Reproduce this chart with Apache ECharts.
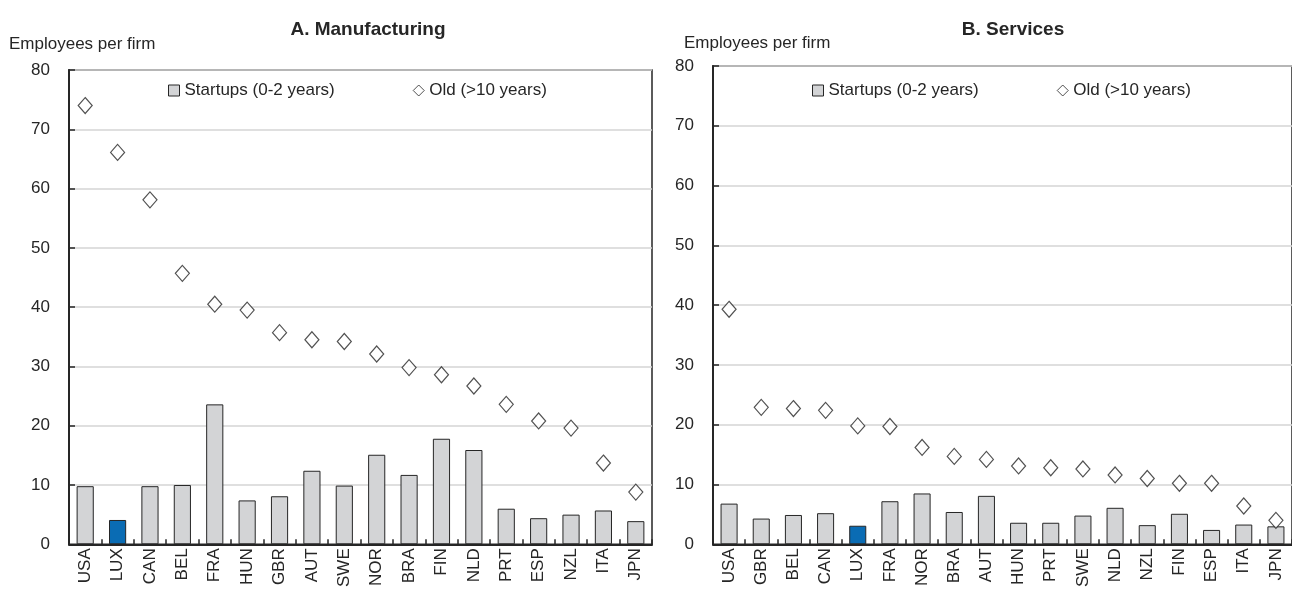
<!DOCTYPE html>
<html>
<head>
<meta charset="utf-8">
<script src="https://cdn.jsdelivr.net/npm/echarts@6/dist/echarts.min.js"></script>
<style>
  html, body { margin: 0; padding: 0; background: #fff; }
  #chart { width: 1292px; height: 590px; }
</style>
</head>
<body>
<div id="chart"></div>
<script>
// Panel A: manufacturing
const mfgCountries = ['USA','LUX','CAN','BEL','FRA','HUN','GBR','AUT','SWE','NOR','BRA','FIN','NLD','PRT','ESP','NZL','ITA','JPN'];
const mfgStartups  = [9.8, 4.1, 9.8, 10.0, 23.6, 7.4, 8.1, 12.4, 9.9, 15.1, 11.7, 17.8, 15.9, 6.0, 4.4, 5.0, 5.7, 3.9];
const mfgOld       = [74.0, 66.1, 58.1, 45.7, 40.5, 39.5, 35.7, 34.5, 34.2, 32.1, 29.8, 28.6, 26.7, 23.6, 20.8, 19.6, 13.7, 8.8];

// Panel B: services
const svcCountries = ['USA','GBR','BEL','CAN','LUX','FRA','NOR','BRA','AUT','HUN','PRT','SWE','NLD','NZL','FIN','ESP','ITA','JPN'];
const svcStartups  = [6.8, 4.3, 4.9, 5.2, 3.1, 7.2, 8.5, 5.4, 8.1, 3.6, 3.6, 4.8, 6.1, 3.2, 5.1, 2.4, 3.3, 3.0];
const svcOld       = [39.3, 22.9, 22.7, 22.4, 19.8, 19.7, 16.2, 14.7, 14.2, 13.1, 12.8, 12.6, 11.6, 11.0, 10.2, 10.2, 6.4, 4.0];

const yTicks = [0, 10, 20, 30, 40, 50, 60, 70, 80];
const panelTitles = ['A. Manufacturing', 'B. Services'];
const yUnit = 'Employees per firm';
const seriesNames = ['Startups (0-2 years)', 'Old (>10 years)'];
const highlight = 'LUX';

const FONT = "'Liberation Sans', Arial, Helvetica, sans-serif";
const INK = '#262626';
const BAR_GREY = '#d3d4d6';
const BAR_BLUE = '#0a6cb4';

const chart = echarts.init(document.getElementById('chart'), null, { renderer: 'canvas' });

function barData(cats, vals) {
  return vals.map((v, i) => cats[i] === highlight
    ? { value: v, itemStyle: { color: BAR_BLUE } }
    : v);
}

const grids = [
  { left: 69, top: 70, width: 583, height: 478 },
  { left: 713, top: 66, width: 585, height: 481 }
].map(g => Object.assign({
  show: true, borderColor: INK, borderWidth: 1.5, backgroundColor: 'transparent', containLabel: false
}, g));

function xAxis(idx, cats) {
  return {
    type: 'category', gridIndex: idx, data: cats,
    axisLine: { lineStyle: { color: INK, width: 2 } },
    axisTick: { show: true, inside: true, length: 5, alignWithLabel: false, lineStyle: { color: INK, width: 1.5 } },
    axisLabel: { rotate: 90, interval: 0, margin: 4, color: INK, fontFamily: FONT, fontSize: 17 }
  };
}

function yAxis(idx) {
  return {
    type: 'value', gridIndex: idx, min: yTicks[0], max: yTicks[yTicks.length - 1], interval: 10,
    axisLine: { show: true, lineStyle: { color: INK, width: 2 } },
    axisTick: { show: true, inside: true, length: 6, lineStyle: { color: INK, width: 1.5 } },
    axisLabel: { margin: 19, color: INK, fontFamily: FONT, fontSize: 17 },
    splitLine: { show: true, lineStyle: { color: '#d4d4d4', width: 1.5 } }
  };
}

function panelSeries(idx, cats, startups, old) {
  return [
    {
      name: seriesNames[0], type: 'bar', xAxisIndex: idx, yAxisIndex: idx,
      data: barData(cats, startups), barWidth: '53%',
      itemStyle: { color: BAR_GREY, borderColor: INK, borderWidth: 1 },
      z: 2
    },
    {
      name: seriesNames[1], type: 'scatter', xAxisIndex: idx, yAxisIndex: idx,
      data: old, symbol: 'diamond', symbolSize: [14, 16],
      itemStyle: { color: '#fff', borderColor: INK, borderWidth: 1.2 },
      z: 3
    }
  ];
}

function legend(left) {
  return {
    left: left, top: 77, itemGap: 78, itemWidth: 11, itemHeight: 11,
    textStyle: { color: INK, fontFamily: FONT, fontSize: 17 },
    data: [
      { name: seriesNames[0], icon: 'rect', itemStyle: { color: BAR_GREY, borderColor: INK, borderWidth: 1 } },
      { name: seriesNames[1], icon: 'diamond', itemStyle: { color: '#fff', borderColor: INK, borderWidth: 1 } }
    ],
    selectedMode: false
  };
}

chart.setOption({
  animation: false,
  backgroundColor: '#fff',
  title: [
    { text: panelTitles[0], left: 363, top: 15, textAlign: 'center',
      textStyle: { fontFamily: FONT, fontSize: 19, fontWeight: 'bold', color: INK } },
    { text: panelTitles[1], left: 1008, top: 15, textAlign: 'center',
      textStyle: { fontFamily: FONT, fontSize: 19, fontWeight: 'bold', color: INK } }
  ],
  graphic: [
    { type: 'text', left: 9, top: 36, style: { text: yUnit, font: '17px ' + FONT, fill: INK } },
    { type: 'text', left: 684, top: 35, style: { text: yUnit, font: '17px ' + FONT, fill: INK } }
  ],
  legend: [legend(163), legend(807)],
  grid: grids,
  xAxis: [xAxis(0, mfgCountries), xAxis(1, svcCountries)],
  yAxis: [yAxis(0), yAxis(1)],
  series: [
    ...panelSeries(0, mfgCountries, mfgStartups, mfgOld),
    ...panelSeries(1, svcCountries, svcStartups, svcOld)
  ]
});
</script>
</body>
</html>
